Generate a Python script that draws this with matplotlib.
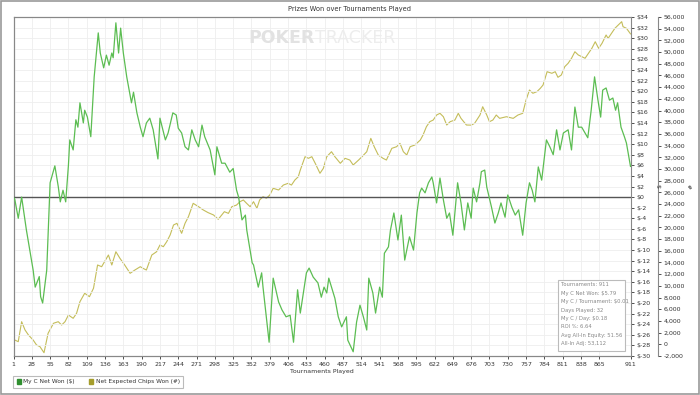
import numpy as np
import matplotlib
matplotlib.use("Agg")
import matplotlib.pyplot as plt
from matplotlib.patches import Patch, Rectangle
from matplotlib.ticker import FuncFormatter, MultipleLocator

# =========================
# DATA
# =========================

net_won_t = [1, 3, 8, 13, 20, 30, 33, 39, 41, 44, 50, 55, 59, 62, 67, 70, 74, 78, 82, 84,
             89, 93, 96, 99, 104, 106, 110, 115, 120, 126, 129, 134, 138, 142, 146, 148, 152, 156, 159, 163,
             168, 175, 178, 183, 188, 192, 197, 202, 207, 214, 217, 225, 229, 236, 241, 244, 249, 254, 259, 264,
             269, 274, 279, 283, 291, 298, 301, 308, 313, 320, 325, 330, 333, 338, 343, 345, 353, 355, 362, 367,
             369, 378, 384, 392, 397, 403, 409, 414, 420, 424, 428, 433, 437, 443, 450, 455, 459, 463, 466, 475,
             480, 485, 492, 494, 502, 507, 512, 517, 522, 525, 531, 535, 541, 545, 548, 554, 557, 562, 568, 573,
             578, 585, 591, 596, 600, 603, 608, 613, 618, 620, 625, 630, 635, 640, 644, 649, 656, 661, 666, 671,
             676, 679, 684, 689, 691, 696, 699, 706, 711, 716, 720, 726, 730, 736, 741, 746, 752, 757, 762, 766,
             770, 775, 780, 787, 792, 797, 802, 807, 812, 819, 824, 829, 834, 839, 844, 848, 853, 858, 863, 867,
             870, 875, 880, 885, 889, 892, 897, 902, 905, 911]
net_won = [0, -0.5, -4, 0, -6.2, -13.8, -17, -15, -18.8, -20, -13.8, 2.7, 4.5, 5.9, 2, -0.9, 1.3, -0.9, 6, 10.8,
           8.9, 14.6, 13.2, 17.8, 14, 16.4, 15.1, 11.4, 22.7, 31, 27.2, 24.4, 26.8, 24.9, 27.2, 26.3, 32.9, 27.2, 31.9, 27.2,
           22.7, 17.8, 19.8, 15.9, 13.2, 11.4, 14, 14.9, 12.7, 7.2, 14.9, 10.8, 12.1, 15.9, 15.5, 13, 12.1, 9.5, 8.9, 12.7,
           10.8, 9.5, 13.6, 11.4, 8.9, 4.2, 9.5, 6.4, 6.4, 4.7, 5.4, 1.3, 0, -4.3, -3.4, -6.2, -12.4, -12.8, -17, -14.3,
           -17, -27.4, -15.3, -19.8, -21.3, -22.6, -22.3, -27.4, -17.5, -21.9, -18.5, -14.3, -13.4, -15.1, -16.2, -18.9, -17, -18.1, -15.3, -19.1,
           -22.6, -24.5, -22.6, -27, -29.2, -23.6, -20.4, -22.6, -25.1, -15.3, -18.1, -21.9, -17, -18.9, -10.6, -9.4, -6.2, -3, -8.1, -3.4,
           -11.9, -7.5, -10, -3, 0.8, 1.7, 0.8, 2.7, 3.8, 2.7, -1.1, 3.6, -0.5, -4, -3, -7.2, 2.7, -1.1, -6.2, -1.1,
           -4, 1.7, -0.9, 2.7, 4.8, 5.1, 1.9, -1.9, -4.9, -3, -1.1, -3.8, 0.4, -1.9, -3.4, -2.4, -7.2, -1.1, 2.7, 1.3,
           -0.9, 5.7, 3.2, 10.8, 9.5, 8, 12.7, 8.9, 12.1, 12.7, 8.9, 17, 13.2, 13.2, 12.1, 11.2, 16.4, 22.7, 18.3, 15.1,
           20.2, 20.6, 18.3, 18.7, 16.4, 17.8, 13.2, 11.4, 10.2, 5.79]

chips_t = [1, 3, 8, 13, 18, 23, 30, 35, 40, 46, 52, 60, 67, 72, 77, 82, 89, 94, 99, 106,
           113, 119, 125, 131, 141, 146, 152, 158, 165, 173, 180, 188, 192, 197, 205, 212, 217, 222, 227, 232,
           237, 242, 249, 254, 259, 266, 274, 281, 288, 296, 303, 312, 318, 323, 330, 335, 340, 345, 350, 355,
           360, 364, 369, 374, 379, 384, 392, 399, 406, 411, 416, 421, 424, 431, 436, 441, 446, 453, 458, 463,
           470, 475, 483, 490, 497, 502, 510, 515, 522, 528, 533, 539, 546, 551, 559, 566, 571, 576, 581, 586,
           593, 601, 605, 610, 615, 620, 625, 630, 635, 640, 645, 652, 657, 661, 669, 676, 681, 689, 693, 699,
           703, 708, 713, 718, 728, 738, 745, 752, 757, 762, 767, 773, 778, 782, 788, 795, 800, 804, 809, 814,
           819, 824, 829, 834, 839, 844, 849, 854, 859, 864, 869, 875, 878, 883, 888, 893, 898, 900, 905, 911]
chips_won = [170, 730, 450, 3870, 2450, 1600, 730, -120, -400, -1440, 1880, 3600, 3870, 3300, 3870, 5010, 4450, 5300, 7290, 8730,
             8150, 9590, 13570, 13280, 15280, 13570, 15840, 14710, 13570, 12150, 12710, 13280, 13000, 12710, 15280, 15840, 16990, 16700, 17560, 18700,
             20410, 20700, 18990, 20700, 21830, 24120, 23540, 22980, 22530, 22130, 21390, 22690, 22400, 23540, 23830, 24400, 24690, 24100, 23540, 24400,
             23270, 24690, 25250, 25000, 25540, 26690, 26400, 27250, 27540, 27250, 28110, 28670, 29820, 32100, 31820, 32100, 30970, 29260, 30110, 32100,
             32950, 32100, 30970, 31820, 31530, 30680, 31530, 32100, 32950, 35240, 33810, 32390, 31820, 31530, 33530, 33810, 34380, 32950, 32390, 33810,
             34100, 34950, 35810, 37230, 38090, 38370, 39230, 39520, 38940, 37520, 38090, 38370, 39520, 38660, 37520, 37500, 37800, 39230, 40650, 39230,
             38090, 38370, 39230, 38660, 38940, 38660, 39230, 39520, 41800, 43510, 42950, 43230, 43800, 44360, 46640, 46370, 46640, 45680, 46080, 47500,
             48080, 48940, 50060, 49500, 49220, 48940, 49790, 50640, 51770, 50640, 51500, 52920, 52350, 53210, 54070, 54630, 55200, 54340, 54070, 53112]

x_ticks = list(range(1, 866, 27)) + [911]

stats_lines = ["Tournaments: 911",
               "My C Net Won: $5.79",
               "My C / Tournament: $0.01",
               "Days Played: 32",
               "My C / Day: $0.18",
               "ROI %: 6.64",
               "Avg All-In Equity: 51.56",
               "All-In Adj: 53,112"]

GREEN = "#5cbd52"
OLIVE = "#c4bd5a"
TXT = "#333333"

# =========================
# FIGURE
# =========================

W, H = 700, 395
fig = plt.figure(figsize=(W / 100, H / 100), dpi=100)
fig.patch.set_facecolor("white")

def fx(px):
    return px / W

def fy(py):
    return 1 - py / H

ax = fig.add_axes([fx(13.5), fy(356), fx(630.5) - fx(13.5), fy(17) - fy(356)])
ax2 = ax.twinx()

ax.set_xlim(1, 911)
ax.set_ylim(-30, 34)
ax2.set_ylim(-2000, 56000)

# grid + zero line
ax.set_xticks(x_ticks)
ax.yaxis.set_major_locator(MultipleLocator(2))
ax.grid(True, color="#eeeeee", lw=0.6)
ax.set_axisbelow(True)
ax.axhline(0, color="#555555", lw=1.0, zorder=3)

ax2.plot(chips_t, chips_won, color=OLIVE, lw=0.8, zorder=4)
ax.plot(net_won_t, net_won, color=GREEN, lw=0.9, zorder=5)
ax.set_zorder(ax2.get_zorder() + 1)
ax.patch.set_visible(False)

# watermark
ax.text(0.488, 0.938, "POKER", transform=ax.transAxes, fontsize=12.5, fontweight="bold",
        color="#e2e2e2", ha="right", va="center", zorder=1)
ax.text(0.488, 0.938, "TRACKER", transform=ax.transAxes, fontsize=12.5,
        color="#ededed", ha="left", va="center", zorder=1)

# axes styling
for a in (ax, ax2):
    for s in a.spines.values():
        s.set_color("#888888")
        s.set_linewidth(0.8)

ax.yaxis.tick_right()
ax.yaxis.set_label_position("right")
ax.yaxis.set_major_formatter(FuncFormatter(lambda v, p: f"${int(round(v))}"))
ax.tick_params(axis="both", labelsize=4.5, colors=TXT, length=2.5, width=0.6, pad=1.5)
ax.tick_params(axis="y", left=False, labelleft=False)
ax.set_ylabel("$", fontsize=4.5, color=TXT, labelpad=5)
ax.set_xlabel("Tournaments Played", fontsize=4.5, color=TXT, labelpad=1.5)

ax2.spines["right"].set_position(("outward", 20))
ax2.yaxis.set_major_locator(MultipleLocator(2000))
ax2.yaxis.set_major_formatter(FuncFormatter(lambda v, p: f"{int(round(v)):,}"))
ax2.tick_params(axis="y", labelsize=4.5, colors=TXT, length=2.5, width=0.6, pad=1.5)
ax2.set_ylabel("#", fontsize=4.5, color=TXT, labelpad=2)

# title
fig.text(0.5, fy(9), "Prizes Won over Tournaments Played", fontsize=4.8,
         color=TXT, ha="center", va="center")

# stats box
fig.patches.append(Rectangle((fx(558), fy(351)), fx(625) - fx(558), fy(280) - fy(351),
                             transform=fig.transFigure, facecolor="white",
                             edgecolor="#bbbbbb", lw=0.8, zorder=10))
for i, line in enumerate(stats_lines):
    fig.text(fx(561), fy(285 + i * 8.4), line, fontsize=3.8, color="#888888",
             ha="left", va="center", zorder=11)

# legend
handles = [Patch(facecolor="#2f8f2f", edgecolor="#2f8f2f"),
           Patch(facecolor="#a59d2c", edgecolor="#a59d2c")]
leg = fig.legend(handles, ["My C Net Won ($)", "Net Expected Chips Won (#)"],
                 loc="lower left", bbox_to_anchor=(fx(13), fy(388)), ncol=2,
                 fontsize=4.2, frameon=True, fancybox=False, handlelength=0.7,
                 handleheight=0.7, handletextpad=0.4, columnspacing=2.5,
                 borderpad=0.6, borderaxespad=0)
leg.get_frame().set_edgecolor("#aaaaaa")
leg.get_frame().set_linewidth(0.8)
for t in leg.get_texts():
    t.set_color(TXT)

# outer border
fig.patches.append(Rectangle((0.001, 0.002), 0.997, 0.996, transform=fig.transFigure,
                             fill=False, edgecolor="#999999", lw=1.2))

fig.savefig("out.png", dpi=100)
